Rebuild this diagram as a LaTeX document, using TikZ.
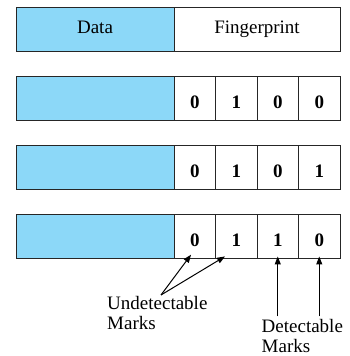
\documentclass[tikz,border=0pt]{standalone}
\usepackage{fontspec}
\setmainfont{Liberation Serif}
\usetikzlibrary{arrows.meta}
\definecolor{datablue}{RGB}{140,216,248}
\tikzset{
  cell/.style={draw=black!85, line width=1pt, minimum height=44pt, inner sep=0pt,
    font=\fontsize{19}{20}\selectfont},
  datacell/.style={cell, fill=datablue, minimum width=158pt},
  headcell/.style={cell, minimum width=166pt, text height=13pt, text depth=5pt},
  bitcell/.style={cell, minimum width=41.5pt, text height=20pt, text depth=0pt,
    font=\fontsize{19}{20}\selectfont\bfseries},
  marktext/.style={align=left, inner sep=0pt, anchor=north west,
    font=\fontsize{19}{20}\selectfont},
  markarrow/.style={-{Triangle[length=8pt,width=6pt]}, line width=1pt}
}
\begin{document}
\begin{tikzpicture}[x=1pt,y=1pt]
      \useasboundingbox (0,0) rectangle (350,356);
      \draw
        (95,326) node[datacell, text height=13pt, text depth=5pt] (d1){Data}
        (257,326) node[headcell] (f1){Fingerprint}
        (95,257) node[datacell] (d2){}
        (194.75,257) node[bitcell] (b21){0}
        (236.25,257) node[bitcell] (b22){1}
        (277.75,257) node[bitcell] (b23){0}
        (319.25,257) node[bitcell] (b24){0}
        (95,188) node[datacell] (d3){}
        (194.75,188) node[bitcell] (b31){0}
        (236.25,188) node[bitcell] (b32){1}
        (277.75,188) node[bitcell] (b33){0}
        (319.25,188) node[bitcell] (b34){1}
        (95,119) node[datacell] (d4){}
        (194.75,119) node[bitcell] (b41){0}
        (236.25,119) node[bitcell] (b42){1}
        (277.75,119) node[bitcell] (b43){1}
        (319.25,119) node[bitcell] (b44){0};
      \node[marktext] (undet) at (107,60) {Undetectable\\Marks};
      \node[marktext] (det) at (261.5,37) {Detectable\\Marks};
      \coordinate (u) at (161,61);
      \coordinate (dl) at ([yshift=-57pt]b43.south);
      \coordinate (dr) at ([yshift=-57pt]b44.south);
      \begin{scope}[markarrow]
        \draw[shorten >=-6pt] (u) to (b41.-108);
        \draw[shorten >=-6pt] (u) to (b42.-126);
        \draw[shorten >=-3pt] (dl) to (b43.south);
        \draw[shorten >=-3pt] (dr) to (b44.south);
      \end{scope}
    \end{tikzpicture}
\end{document}
